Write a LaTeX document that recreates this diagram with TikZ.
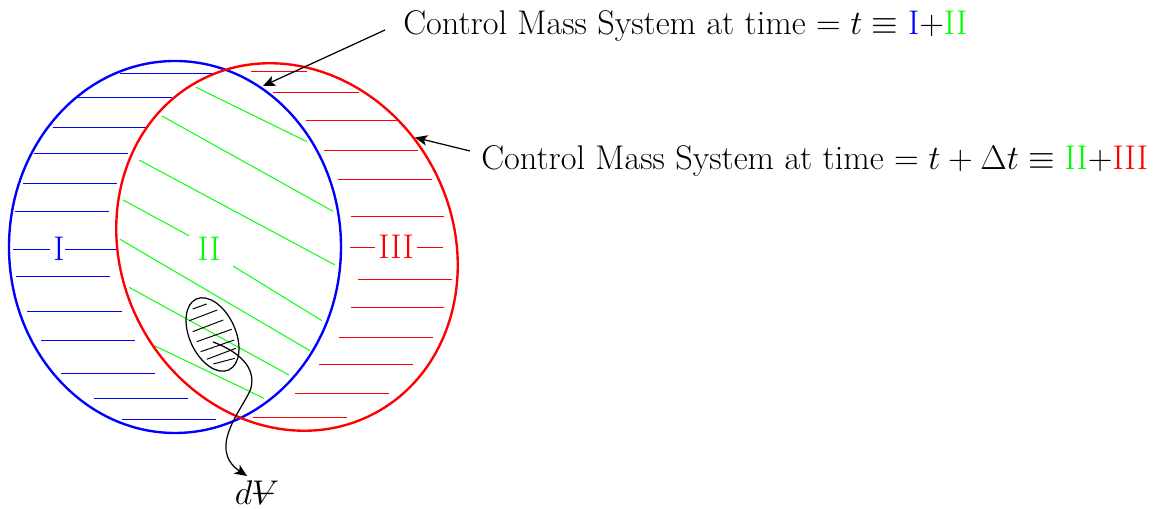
\RequirePackage{fix-cm}
\documentclass[tikz,border=0pt]{standalone}
\usetikzlibrary{arrows.meta}
\definecolor{pgreen}{RGB}{0,255,0}
\definecolor{pblue}{RGB}{0,0,255}
\definecolor{pred}{RGB}{255,0,0}
\begin{document}
\begin{tikzpicture}[x=0.02cm,y=0.02cm,
  font=\fontsize{19.5}{23}\selectfont,
  bound/.style={line width=1.35pt},
  hatch/.style={line width=0.55pt},
  thinline/.style={line width=0.7pt},
  arr/.style={thinline,-{Stealth[length=7pt,width=6pt,inset=1.8pt]}},
  lbl/.style={inner sep=1pt}]
\useasboundingbox (0,0) rectangle (1154,509);

% blue hatch (region I)
\begin{scope}[hatch,pblue]
\draw (120,435.7)--(213,435.7);
\draw (77,411.3)--(172,411.3);
\draw (53,381.7)--(147,381.7);
\draw (34,355.7)--(128,355.7);
\draw (23,325.3)--(117,325.3);
\draw (15,297.7)--(109,297.7);
\draw (13,260)--(50,260);
\draw (65,260)--(116,260);
\draw (16,233)--(110,233);
\draw (27,197.3)--(122,197.3);
\draw (41,168.7)--(135,168.7);
\draw (61,135.3)--(155,135.3);
\draw (94,111)--(188,111);
\draw (122,89.7)--(216,89.7);
\end{scope}

% red hatch (region III)
\begin{scope}[hatch,pred]
\draw (251,438)--(307,438);
\draw (273,416.7)--(359,416.7);
\draw (306,389)--(398,389);
\draw (324,359)--(418,359);
\draw (338,329.3)--(432,329.3);
\draw (351,293)--(444,293);
\draw (350,261.7)--(375,261.7);
\draw (417,261.7)--(443,261.7);
\draw (358,229.3)--(452,229.3);
\draw (351,201.7)--(444,201.7);
\draw (339,171.7)--(433,171.7);
\draw (319,145)--(413,145);
\draw (295,116)--(389,116);
\draw (253,91.7)--(347,91.7);
\end{scope}

% green hatch (region II)
\begin{scope}[hatch,pgreen]
\draw (196,421.7)--(307,367.3);
\draw (162,393)--(333,297.7);
\draw (139,349)--(335,244);
\draw (123,309)--(189,273.3);
\draw (233,243)--(322,188.3);
\draw (120,269.7)--(310,158.3);
\draw (129,221.7)--(289,134);
\draw (155,163)--(264,110.7);
\end{scope}

% control volumes
\draw[bound,pblue] (175,262) ellipse [x radius=166, y radius=186];
\draw[bound,pred,rotate around={26.9:(287,262)}] (287,262) ellipse [x radius=166, y radius=188];

% small element dV
\draw[thinline,rotate around={24.6:(212.5,174.5)}] (212.5,174.5) ellipse [x radius=23, y radius=39];
\begin{scope}[hatch]
\draw (192.7,200)--(206.7,205);
\draw (189.3,188.3)--(217.3,199);
\draw (192.7,177.3)--(223.3,189);
\draw (196.7,167.3)--(231.7,179.7);
\draw (200.7,157.3)--(234.3,169);
\draw (206.7,149.7)--(236,160.7);
\draw (213.3,145)--(235,150.7);
\end{scope}

% labels
\node[lbl,pblue] (lI) at (59,260) {I};
\node[lbl,pgreen] (lII) at (209,260) {II};
\node[lbl,pred] (lIII) at (396,262) {III};
\node[lbl] (dv) at (257,16) {$d\rlap{\raisebox{0.08em}{$\mkern-1mu-$}}V$};

\node[inner sep=0pt,anchor=base west] (t1) at (403,474)
  {Control Mass System at time $=t\equiv{}$\textcolor{pblue}{I}$+$\textcolor{pgreen}{II}};
\node[inner sep=0pt,anchor=base west] (t2) at (481,339)
  {Control Mass System at time $=t+\Delta t\equiv{}$\textcolor{pgreen}{II}$+$\textcolor{pred}{III}};

% connectors
\coordinate (s1) at (385,479);
\coordinate (e1) at (263,423);
\coordinate (s2) at (470,358);
\coordinate (e2) at (415,371.5);
\coordinate (src) at (213,167);
\coordinate (tip) at (247,33);
\draw[arr] (s1) -- (e1);
\draw[arr] (s2) -- (e2);
\draw[arr] (src) .. controls (240,157) and (256,141) .. (251,121)
  .. controls (246,104) and (205,61) .. (tip);
\end{tikzpicture}
\end{document}
